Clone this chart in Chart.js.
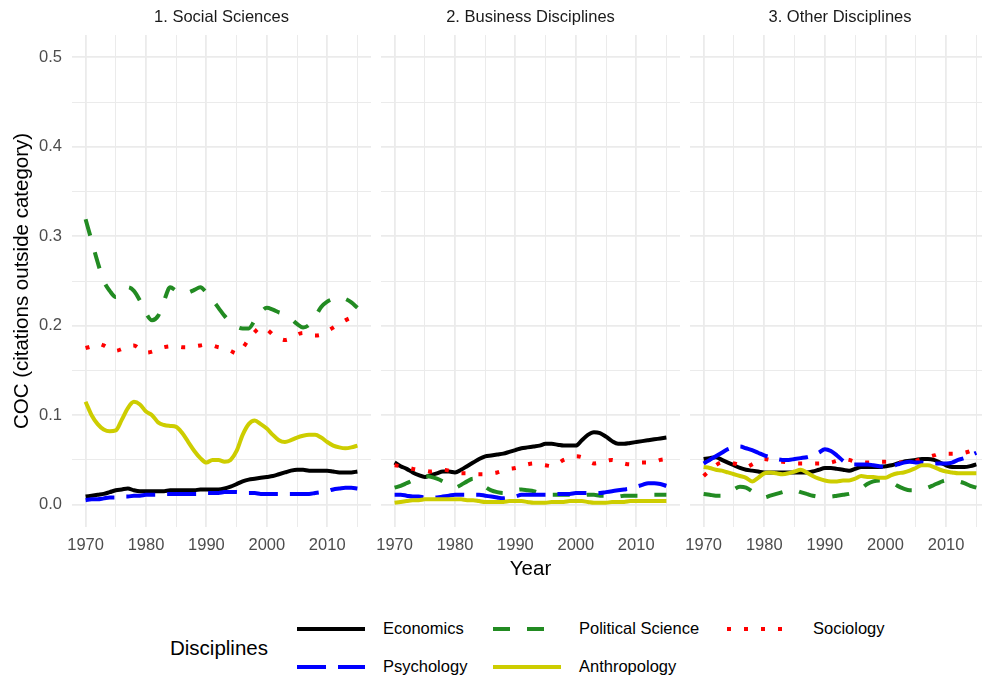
<!DOCTYPE html>
<html>
<head>
<meta charset="utf-8">
<script src="https://cdn.jsdelivr.net/npm/chart.js@4.4.1/dist/chart.umd.min.js"></script>
<style>
  html, body { margin: 0; padding: 0; background: #fff; overflow: hidden; }
  #wrap { position: relative; width: 982px; height: 679px; overflow: hidden; font-family: "Liberation Sans", Arial, sans-serif; }
  canvas { position: absolute; top: 0; }
  .lg { position: absolute; font-size: 16.5px; color: #000; line-height: 20px; }
  .lgtitle { position: absolute; font-size: 20.5px; color: #000; }
  svg { position: absolute; }
</style>
</head>
<body>
<div id="wrap">
  <canvas id="p1" width="371" height="587" style="left:0px"></canvas>
  <canvas id="p2" width="309" height="587" style="left:371px"></canvas>
  <canvas id="p3" width="310" height="587" style="left:680px"></canvas>
  <div id="legend"></div>
</div>
<script>
"use strict";

// Years and tick values
var years = [1970, 1971, 1972, 1973, 1974, 1975, 1976, 1977, 1978, 1979,
             1980, 1981, 1982, 1983, 1984, 1985, 1986, 1987, 1988, 1989,
             1990, 1991, 1992, 1993, 1994, 1995, 1996, 1997, 1998, 1999,
             2000, 2001, 2002, 2003, 2004, 2005, 2006, 2007, 2008, 2009,
             2010, 2011, 2012, 2013, 2014, 2015];
var xTickValues = [1970, 1975, 1980, 1985, 1990, 1995, 2000, 2005, 2010, 2015];
var yTickValues = [0, 0.05, 0.1, 0.15, 0.2, 0.25, 0.3, 0.35, 0.4, 0.45, 0.5];

var disciplines = ['Economics', 'Political Science', 'Sociology', 'Psychology', 'Anthropology'];
var panelTitles = ['1. Social Sciences', '2. Business Disciplines', '3. Other Disciplines'];

// 1. Social Sciences
var socEconomics = [0.009, 0.010, 0.011, 0.012, 0.014, 0.016, 0.017, 0.018, 0.016, 0.015,
                    0.015, 0.015, 0.015, 0.015, 0.016, 0.016, 0.016, 0.016, 0.016, 0.017,
                    0.017, 0.017, 0.017, 0.018, 0.020, 0.023, 0.026, 0.028, 0.029, 0.030,
                    0.031, 0.032, 0.034, 0.036, 0.038, 0.039, 0.039, 0.038, 0.038, 0.038,
                    0.038, 0.037, 0.036, 0.036, 0.036, 0.037];
var socPolitical = [0.319, 0.295, 0.271, 0.250, 0.239, 0.232, 0.236, 0.243, 0.239, 0.228,
                    0.214, 0.206, 0.211, 0.228, 0.243, 0.239, 0.236, 0.237, 0.240, 0.243,
                    0.237, 0.229, 0.220, 0.211, 0.204, 0.199, 0.197, 0.197, 0.206, 0.215,
                    0.220, 0.218, 0.215, 0.213, 0.208, 0.202, 0.198, 0.201, 0.210, 0.221,
                    0.227, 0.230, 0.232, 0.230, 0.226, 0.220];
var socSociology = [0.175, 0.177, 0.180, 0.178, 0.174, 0.172, 0.174, 0.177, 0.178, 0.174,
                    0.170, 0.171, 0.174, 0.176, 0.177, 0.177, 0.176, 0.176, 0.177, 0.178,
                    0.179, 0.178, 0.176, 0.175, 0.172, 0.169, 0.175, 0.185, 0.193, 0.198,
                    0.196, 0.190, 0.186, 0.184, 0.186, 0.190, 0.192, 0.190, 0.189, 0.190,
                    0.194, 0.198, 0.202, 0.206, 0.209, 0.210];
var socPsychology = [0.005, 0.006, 0.006, 0.007, 0.008, 0.008, 0.009, 0.009, 0.010, 0.010,
                     0.011, 0.011, 0.011, 0.012, 0.012, 0.012, 0.012, 0.012, 0.012, 0.012,
                     0.013, 0.013, 0.013, 0.014, 0.014, 0.014, 0.013, 0.013, 0.013, 0.012,
                     0.012, 0.012, 0.012, 0.012, 0.012, 0.012, 0.012, 0.012, 0.013, 0.014,
                     0.015, 0.017, 0.018, 0.019, 0.019, 0.018];
var socAnthropology = [0.115, 0.100, 0.090, 0.084, 0.082, 0.083, 0.095, 0.108, 0.115, 0.112,
                       0.104, 0.100, 0.092, 0.089, 0.088, 0.087, 0.080, 0.070, 0.060, 0.052,
                       0.047, 0.050, 0.050, 0.048, 0.050, 0.060, 0.078, 0.090, 0.094, 0.090,
                       0.085, 0.078, 0.072, 0.070, 0.072, 0.075, 0.077, 0.078, 0.078, 0.075,
                       0.070, 0.066, 0.064, 0.063, 0.064, 0.066];

// 2. Business Disciplines
var busEconomics = [0.047, 0.043, 0.040, 0.036, 0.033, 0.031, 0.033, 0.035, 0.037, 0.037,
                    0.036, 0.039, 0.043, 0.047, 0.051, 0.054, 0.055, 0.056, 0.057, 0.059,
                    0.061, 0.063, 0.064, 0.065, 0.066, 0.068, 0.068, 0.067, 0.066, 0.066,
                    0.066, 0.072, 0.078, 0.081, 0.080, 0.076, 0.071, 0.068, 0.068, 0.069,
                    0.070, 0.071, 0.072, 0.073, 0.074, 0.075];
var busPolitical = [0.019, 0.021, 0.024, 0.027, 0.030, 0.032, 0.031, 0.029, 0.026, 0.022,
                    0.019, 0.022, 0.026, 0.029, 0.026, 0.020, 0.016, 0.014, 0.013, 0.014,
                    0.016, 0.017, 0.016, 0.015, 0.013, 0.012, 0.011, 0.011, 0.011, 0.011,
                    0.010, 0.010, 0.011, 0.011, 0.010, 0.010, 0.009, 0.009, 0.010, 0.010,
                    0.010, 0.010, 0.011, 0.011, 0.011, 0.011];
var busSociology = [0.044, 0.043, 0.042, 0.040, 0.039, 0.038, 0.037, 0.038, 0.039, 0.038,
                    0.036, 0.035, 0.035, 0.034, 0.034, 0.034, 0.035, 0.036, 0.038, 0.040,
                    0.041, 0.043, 0.045, 0.046, 0.045, 0.044, 0.043, 0.046, 0.050, 0.052,
                    0.054, 0.053, 0.049, 0.046, 0.047, 0.049, 0.050, 0.048, 0.046, 0.045,
                    0.046, 0.047, 0.047, 0.048, 0.050, 0.051];
var busPsychology = [0.011, 0.011, 0.010, 0.009, 0.009, 0.008, 0.008, 0.008, 0.009, 0.010,
                     0.011, 0.011, 0.011, 0.011, 0.011, 0.010, 0.009, 0.008, 0.007, 0.008,
                     0.009, 0.011, 0.011, 0.011, 0.011, 0.011, 0.011, 0.012, 0.012, 0.012,
                     0.013, 0.013, 0.013, 0.013, 0.013, 0.014, 0.015, 0.016, 0.017, 0.018,
                     0.020, 0.022, 0.024, 0.024, 0.023, 0.021];
var busAnthropology = [0.002, 0.003, 0.004, 0.005, 0.005, 0.006, 0.006, 0.006, 0.006, 0.006,
                       0.006, 0.006, 0.005, 0.005, 0.004, 0.003, 0.003, 0.003, 0.003, 0.004,
                       0.004, 0.004, 0.003, 0.002, 0.002, 0.002, 0.003, 0.003, 0.003, 0.004,
                       0.004, 0.004, 0.003, 0.002, 0.002, 0.002, 0.003, 0.003, 0.003, 0.004,
                       0.004, 0.004, 0.004, 0.004, 0.004, 0.004];

// 3. Other Disciplines
var othEconomics = [0.051, 0.052, 0.053, 0.050, 0.047, 0.044, 0.041, 0.039, 0.038, 0.037,
                    0.036, 0.036, 0.036, 0.036, 0.036, 0.036, 0.036, 0.036, 0.037, 0.039,
                    0.041, 0.041, 0.040, 0.039, 0.038, 0.040, 0.042, 0.042, 0.042, 0.042,
                    0.043, 0.044, 0.046, 0.048, 0.049, 0.050, 0.051, 0.051, 0.050, 0.047,
                    0.044, 0.042, 0.042, 0.042, 0.043, 0.045];
var othPolitical = [0.012, 0.011, 0.010, 0.010, 0.012, 0.017, 0.020, 0.019, 0.015, 0.010,
                    0.008, 0.010, 0.012, 0.014, 0.016, 0.016, 0.014, 0.012, 0.010, 0.009,
                    0.009, 0.009, 0.010, 0.011, 0.012, 0.014, 0.018, 0.023, 0.026, 0.027,
                    0.027, 0.025, 0.021, 0.018, 0.016, 0.016, 0.017, 0.019, 0.022, 0.025,
                    0.027, 0.027, 0.026, 0.024, 0.021, 0.019];
var othSociology = [0.032, 0.038, 0.044, 0.047, 0.047, 0.046, 0.044, 0.042, 0.045, 0.049,
                    0.051, 0.050, 0.049, 0.048, 0.047, 0.046, 0.046, 0.046, 0.046, 0.046,
                    0.046, 0.047, 0.049, 0.051, 0.050, 0.048, 0.047, 0.047, 0.047, 0.048,
                    0.048, 0.048, 0.047, 0.047, 0.047, 0.049, 0.051, 0.053, 0.055, 0.057,
                    0.057, 0.057, 0.057, 0.058, 0.060, 0.063];
var othPsychology = [0.046, 0.050, 0.054, 0.058, 0.062, 0.064, 0.065, 0.063, 0.061, 0.058,
                     0.055, 0.053, 0.051, 0.050, 0.050, 0.051, 0.052, 0.053, 0.055, 0.058,
                     0.062, 0.060, 0.055, 0.049, 0.045, 0.045, 0.045, 0.045, 0.044, 0.043,
                     0.042, 0.043, 0.045, 0.047, 0.048, 0.047, 0.047, 0.046, 0.046, 0.046,
                     0.046, 0.047, 0.050, 0.052, 0.055, 0.058];
var othAnthropology = [0.042, 0.041, 0.039, 0.038, 0.036, 0.034, 0.032, 0.030, 0.026, 0.030,
                       0.035, 0.036, 0.035, 0.034, 0.035, 0.037, 0.039, 0.036, 0.032, 0.029,
                       0.027, 0.026, 0.026, 0.027, 0.027, 0.029, 0.032, 0.031, 0.031, 0.030,
                       0.030, 0.033, 0.035, 0.036, 0.038, 0.041, 0.044, 0.044, 0.042, 0.039,
                       0.037, 0.036, 0.035, 0.035, 0.035, 0.035];

// Styles
var lineColors = ['#000000', '#228B22', '#FF0000', '#0000FF', '#CDCD00'];
var lineDashes = [[], [17, 17], [4, 13], [29, 12], []];
var fontFamily = '"Liberation Sans", Arial, sans-serif';
var gridColor = '#EBEBEB';
var tickColor = '#4D4D4D';

Chart.defaults.font.family = fontFamily;

// Draws the facet label above each panel
var stripPlugin = {
    id: 'strip',
    afterDraw: function (chart, args, opts) {
        var ctx = chart.ctx;
        var area = chart.chartArea;
        ctx.save();
        ctx.font = '16.5px ' + fontFamily;
        ctx.fillStyle = '#1A1A1A';
        ctx.textAlign = 'center';
        ctx.textBaseline = 'middle';
        ctx.fillText(opts.text, (area.left + area.right) / 2, 17);
        ctx.restore();
    }
};

var isMajor = function (v, step) {
    return Math.abs(v / step - Math.round(v / step)) < 1e-6;
};

var buildPanel = function (canvasId, index, series) {
    var first = index === 0;
    var datasets = disciplines.map(function (name, i) {
        return {
            label: name,
            data: years.map(function (yr, k) { return { x: yr, y: series[i][k] }; }),
            borderColor: lineColors[i],
            borderDash: lineDashes[i],
            borderWidth: 4,
            borderCapStyle: 'butt',
            borderJoinStyle: 'round',
            pointRadius: 0,
            cubicInterpolationMode: 'monotone',
            fill: false,
            order: disciplines.length - i
        };
    });

    return new Chart(document.getElementById(canvasId), {
        type: 'line',
        data: { datasets: datasets },
        options: {
            responsive: false,
            animation: false,
            events: [],
            // panels 2 and 3 keep 10px of room so the "1970" label is not cut
            layout: { padding: { top: 35, left: first ? 0 : 10, right: 0, bottom: 0 } },
            plugins: {
                legend: { display: false },
                tooltip: { enabled: false },
                strip: { text: panelTitles[index] }
            },
            scales: {
                x: {
                    type: 'linear',
                    min: 1967.75,
                    max: 2017.25,
                    afterBuildTicks: function (s) {
                        s.ticks = xTickValues.map(function (v) { return { value: v }; });
                    },
                    afterFit: function (s) {
                        s.height = 60;
                        s.paddingLeft = 0;
                        s.paddingRight = 0;
                    },
                    border: { display: false },
                    grid: {
                        color: gridColor,
                        drawTicks: false,
                        lineWidth: function (c) { return isMajor(c.tick.value, 10) ? 1.8 : 1; }
                    },
                    ticks: {
                        autoSkip: false,
                        maxRotation: 0,
                        padding: 9,
                        color: tickColor,
                        font: { size: 16.5 },
                        callback: function (v) { return isMajor(v, 10) ? String(v) : ''; }
                    },
                    title: {
                        display: index === 1,
                        text: 'Year',
                        color: '#000',
                        font: { size: 20.5 },
                        padding: { top: 5, bottom: 5 }
                    }
                },
                y: {
                    type: 'linear',
                    min: -0.025,
                    max: 0.525,
                    afterBuildTicks: function (s) {
                        s.ticks = yTickValues.map(function (v) { return { value: v }; });
                    },
                    afterFit: function (s) {
                        s.width = first ? 72 : 0;
                        s.paddingTop = 0;
                        s.paddingBottom = 0;
                    },
                    border: { display: false },
                    grid: {
                        color: gridColor,
                        drawTicks: false,
                        lineWidth: function (c) { return isMajor(c.tick.value, 0.1) ? 1.8 : 1; }
                    },
                    ticks: {
                        display: first,
                        autoSkip: false,
                        padding: 10,
                        color: tickColor,
                        font: { size: 16.5 },
                        callback: function (v) { return isMajor(v, 0.1) ? v.toFixed(1) : ''; }
                    },
                    title: {
                        display: first,
                        text: 'COC (citations outside category)',
                        color: '#000',
                        font: { size: 20.5 },
                        padding: { top: 10, bottom: 0 }
                    }
                }
            }
        },
        plugins: [stripPlugin]
    });
};

// Legend built as HTML with small svg line keys
var buildLegend = function () {
    var box = document.getElementById('legend');
    var html = '<div class="lgtitle" style="left:170px;top:636px">Disciplines</div>';
    var slots = [
        { x: 297, y: 629 }, { x: 493, y: 629 }, { x: 727, y: 629 },
        { x: 297, y: 667 }, { x: 493, y: 667 }
    ];
    disciplines.forEach(function (name, i) {
        var s = slots[i];
        var dash = lineDashes[i].length ? ' stroke-dasharray="' + lineDashes[i].join(' ') + '"' : '';
        html += '<svg width="68" height="10" style="left:' + s.x + 'px;top:' + (s.y - 5) + 'px">' +
            '<line x1="0" y1="5" x2="68" y2="5" stroke="' + lineColors[i] + '" stroke-width="4"' + dash + '/></svg>';
        html += '<div class="lg" style="left:' + (s.x + 86) + 'px;top:' + (s.y - 11) + 'px">' + name + '</div>';
    });
    box.innerHTML = html;
};

buildPanel('p1', 0, [socEconomics, socPolitical, socSociology, socPsychology, socAnthropology]);
buildPanel('p2', 1, [busEconomics, busPolitical, busSociology, busPsychology, busAnthropology]);
buildPanel('p3', 2, [othEconomics, othPolitical, othSociology, othPsychology, othAnthropology]);
buildLegend();
</script>
</body>
</html>
